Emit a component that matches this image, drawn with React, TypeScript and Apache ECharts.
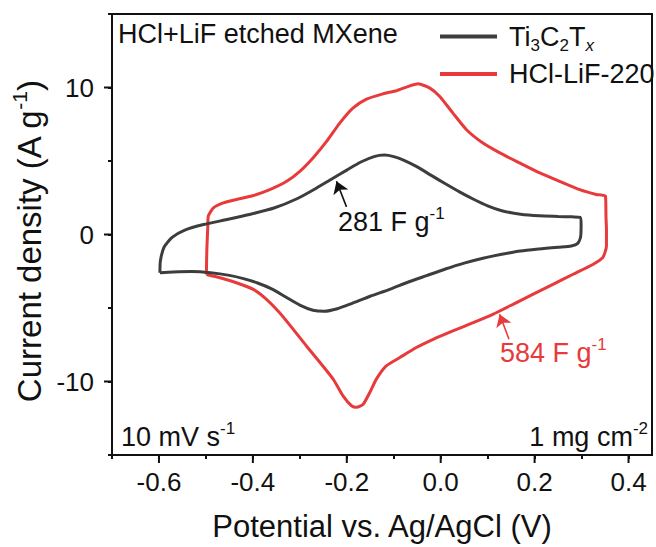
import React, { useEffect, useRef } from 'react';
import * as echarts from 'echarts';

const FONT = '"Liberation Sans", Arial, Helvetica, sans-serif';
const BLACK = '#3d3d3d';
const RED = '#e8393b';
const INK = '#111111';

const xMin = -0.7;
const xMax = 0.45;
const yMin = -15;
const yMax = 15;
const xMajorTicks = [-0.6, -0.4, -0.2, 0.0, 0.2, 0.4];
const yMajorTicks = [-10, 0, 10];

const seriesNames = ['Ti3C2Tx', 'HCl-LiF-220'];

// Ti3C2Tx: anodic sweep (-0.6 -> 0.3 V)
const tiAnodic = [
  [-0.598, -2.6], [-0.597, -1.8], [-0.589, -0.85], [-0.572, -0.2], [-0.545, 0.3],
  [-0.505, 0.68], [-0.455, 1.02], [-0.405, 1.38], [-0.355, 1.8], [-0.305, 2.45],
  [-0.265, 3.15], [-0.232, 3.78], [-0.2, 4.38], [-0.17, 4.93], [-0.142, 5.3],
  [-0.12, 5.4], [-0.1, 5.3], [-0.078, 5.05], [-0.05, 4.6], [-0.02, 4.02],
  [0.01, 3.45], [0.04, 2.9], [0.07, 2.4], [0.1, 1.95], [0.13, 1.62],
  [0.17, 1.38], [0.21, 1.27], [0.25, 1.23], [0.28, 1.2], [0.297, 1.17],
];
// Ti3C2Tx: cathodic sweep (0.3 -> -0.6 V)
const tiCathodic = [
  [0.299, 0.7], [0.298, -0.15], [0.292, -0.6], [0.278, -0.78], [0.25, -0.86],
  [0.21, -0.98], [0.17, -1.12], [0.13, -1.35], [0.09, -1.62], [0.05, -1.95],
  [0.01, -2.35], [-0.03, -2.8], [-0.07, -3.25], [-0.11, -3.75], [-0.15, -4.2],
  [-0.19, -4.7], [-0.22, -5.05], [-0.248, -5.22], [-0.272, -5.15], [-0.3, -4.8],
  [-0.33, -4.25], [-0.36, -3.7], [-0.39, -3.3], [-0.42, -3.0], [-0.45, -2.78],
  [-0.49, -2.6], [-0.53, -2.52], [-0.57, -2.55], [-0.598, -2.6],
];
// HCl-LiF-220: anodic sweep (-0.5 -> 0.35 V)
const lifAnodic = [
  [-0.499, -2.72], [-0.498, -1.0], [-0.496, 0.5], [-0.495, 1.24], [-0.484, 1.81],
  [-0.463, 2.15], [-0.435, 2.38], [-0.399, 2.65], [-0.364, 3.05], [-0.328, 3.62],
  [-0.3, 4.3], [-0.272, 5.21], [-0.243, 6.33], [-0.215, 7.58], [-0.187, 8.6],
  [-0.158, 9.21], [-0.123, 9.57], [-0.094, 9.78], [-0.073, 10.03], [-0.048, 10.25],
  [-0.023, 9.96], [-0.002, 9.39], [0.026, 8.26], [0.055, 7.13], [0.09, 6.22],
  [0.126, 5.55], [0.168, 4.87], [0.211, 4.19], [0.253, 3.62], [0.296, 3.05],
  [0.331, 2.72], [0.351, 2.6],
];
// HCl-LiF-220: cathodic sweep (0.35 -> -0.5 V)
const lifCathodic = [
  [0.352, 1.2], [0.353, 0.34], [0.353, -0.79], [0.345, -1.58], [0.324, -2.04],
  [0.281, -2.72], [0.239, -3.39], [0.196, -4.07], [0.154, -4.75], [0.111, -5.43],
  [0.069, -6.0], [0.026, -6.56], [-0.016, -7.13], [-0.052, -7.69], [-0.087, -8.37],
  [-0.116, -8.94], [-0.137, -9.84], [-0.151, -10.75], [-0.165, -11.54], [-0.179, -11.76],
  [-0.19, -11.65], [-0.208, -10.98], [-0.229, -9.84], [-0.257, -8.71], [-0.286, -7.58],
  [-0.314, -6.45], [-0.343, -5.32], [-0.371, -4.41], [-0.399, -3.73], [-0.435, -3.28],
  [-0.47, -2.94], [-0.499, -2.72],
];

// annotation arrows (data coordinates: tail -> head)
const tiArrow = [[-0.2006, 1.88], [-0.2219, 3.62]];
const lifArrow = [[0.1454, -7.13], [0.1255, -5.43]];

const tok = (size: number, lh: number, color: string, extra: any = {}) => ({
  fontSize: size,
  lineHeight: lh,
  fontFamily: FONT,
  color,
  fill: color,
  ...extra,
});

const richInk = {
  n: tok(27, 34, INK),
  sub: tok(17, 18, INK, { verticalAlign: 'bottom' }),
  subi: tok(17, 18, INK, { verticalAlign: 'bottom', fontStyle: 'italic' }),
  sup: tok(17, 18, INK, { verticalAlign: 'top' }),
};
const richRed = {
  n: tok(27, 34, RED),
  sup: tok(17, 18, RED, { verticalAlign: 'top' }),
};
const richTitle = {
  n: tok(33, 40, INK),
  sup: tok(21, 22, INK, { verticalAlign: 'top' }),
};

function tickSeries(values: number[], horizontal: boolean) {
  return {
    type: 'custom',
    silent: true,
    clip: false,
    z: 10,
    data: values.map((v) => (horizontal ? [v, yMin] : [xMin, v])),
    renderItem: (_p: any, api: any) => {
      const pt = api.coord([api.value(0), api.value(1)]);
      const shape = horizontal
        ? { x1: pt[0], y1: pt[1], x2: pt[0], y2: pt[1] + 8 }
        : { x1: pt[0] - 8, y1: pt[1], x2: pt[0], y2: pt[1] };
      return { type: 'line', shape, style: { stroke: INK, lineWidth: 2 } };
    },
  };
}

function arrowMark(arrow: number[][], color: string) {
  return {
    silent: true,
    animation: false,
    symbol: ['none', 'arrow'],
    symbolSize: 12,
    label: { show: false },
    lineStyle: { color, width: 1.6, type: 'solid' },
    emphasis: { disabled: true },
    data: [[{ coord: arrow[0] }, { coord: arrow[1] }]],
  };
}

export default function App() {
  const ref = useRef<HTMLDivElement>(null);
  useEffect(() => {
    if (!ref.current) return;
    const chart = echarts.init(ref.current, undefined, { renderer: 'svg' });
    const option: any = {
      animation: false,
      backgroundColor: '#ffffff',
      grid: {
        left: 112,
        right: 4,
        top: 14,
        bottom: 91,
        show: true,
        borderColor: INK,
        borderWidth: 2,
        backgroundColor: 'transparent',
      },
      legend: {
        data: seriesNames,
        left: 435,
        top: 18,
        orient: 'vertical',
        itemWidth: 57,
        itemHeight: 4,
        itemGap: 7,
        icon: 'rect',
        selectedMode: false,
        textStyle: { fontSize: 27, color: INK, fontFamily: FONT, padding: [0, 0, 0, 7], rich: richInk },
        formatter: (name: string) =>
          name === 'Ti3C2Tx' ? '{n|Ti}{sub|3}{n|C}{sub|2}{n|T}{subi|x}' : '{n|' + name + '}',
      },
      xAxis: {
        type: 'value',
        min: xMin,
        max: xMax,
        interval: 0.1,
        name: 'Potential vs. Ag/AgCl (V)',
        nameLocation: 'middle',
        nameGap: 56,
        nameTextStyle: { fontSize: 31, color: INK, fontFamily: FONT },
        axisLine: { show: true, onZero: false, lineStyle: { color: INK, width: 2 } },
        axisTick: { show: true, length: 4, lineStyle: { color: INK, width: 2 } },
        splitLine: { show: false },
        axisLabel: {
          fontSize: 26,
          color: INK,
          fontFamily: FONT,
          margin: 14,
          showMaxLabel: false,
          formatter: (v: number) => {
            const k = Math.round(v * 10);
            if (Math.abs(v * 10 - k) > 1e-6 || k % 2 !== 0) return '';
            return (k / 10).toFixed(1);
          },
        },
      },
      yAxis: {
        type: 'value',
        min: yMin,
        max: yMax,
        interval: 5,
        name: '{n|Current density (A g}{sup|-1}{n|)}',
        nameLocation: 'middle',
        nameGap: 48,
        nameTextStyle: { fontSize: 33, color: INK, fontFamily: FONT, rich: richTitle, padding: [0, 14, 0, 0] },
        axisLine: { show: true, onZero: false, lineStyle: { color: INK, width: 2 } },
        axisTick: { show: true, length: 4, lineStyle: { color: INK, width: 2 } },
        splitLine: { show: false },
        axisLabel: {
          fontSize: 26,
          color: INK,
          fontFamily: FONT,
          margin: 18,
          formatter: (v: number) => (Math.abs(v % 10) < 1e-9 ? String(v) : ''),
        },
      },
      series: [
        {
          name: seriesNames[0],
          type: 'line',
          data: [...tiAnodic, ...tiCathodic],
          showSymbol: false,
          symbol: 'none',
          smooth: 0.2,
          lineStyle: { color: BLACK, width: 3 },
          itemStyle: { color: BLACK },
          z: 3,
          markLine: arrowMark(tiArrow, INK),
        },
        {
          name: seriesNames[1],
          type: 'line',
          data: [...lifAnodic, ...lifCathodic],
          showSymbol: false,
          symbol: 'none',
          smooth: 0.2,
          lineStyle: { color: RED, width: 3 },
          itemStyle: { color: RED },
          z: 2,
          markLine: arrowMark(lifArrow, RED),
        },
        tickSeries(xMajorTicks, true),
        tickSeries(yMajorTicks, false),
      ],
      graphic: [
        {
          type: 'text',
          x: 118,
          y: 34,
          style: { text: '{n|HCl+LiF etched MXene}', rich: richInk, verticalAlign: 'middle', align: 'left' },
        },
        {
          type: 'text',
          x: 121,
          y: 437,
          style: { text: '{n|10 mV s}{sup|-1}', rich: richInk, verticalAlign: 'middle', align: 'left' },
        },
        {
          type: 'text',
          x: 648,
          y: 437,
          style: { text: '{n|1 mg cm}{sup|-2}', rich: richInk, verticalAlign: 'middle', align: 'right' },
        },
        {
          type: 'text',
          x: 338,
          y: 222,
          style: { text: '{n|281 F g}{sup|-1}', rich: richInk, verticalAlign: 'middle', align: 'left' },
        },
        {
          type: 'text',
          x: 500,
          y: 353,
          style: { text: '{n|584 F g}{sup|-1}', rich: richRed, verticalAlign: 'middle', align: 'left' },
        },
      ],
    };
    chart.setOption(option);
    return () => chart.dispose();
  }, []);
  return (
    <div
      ref={ref}
      style={{ position: 'absolute', left: 0, top: 0, width: 656, height: 547, background: '#fff' }}
    />
  );
}
